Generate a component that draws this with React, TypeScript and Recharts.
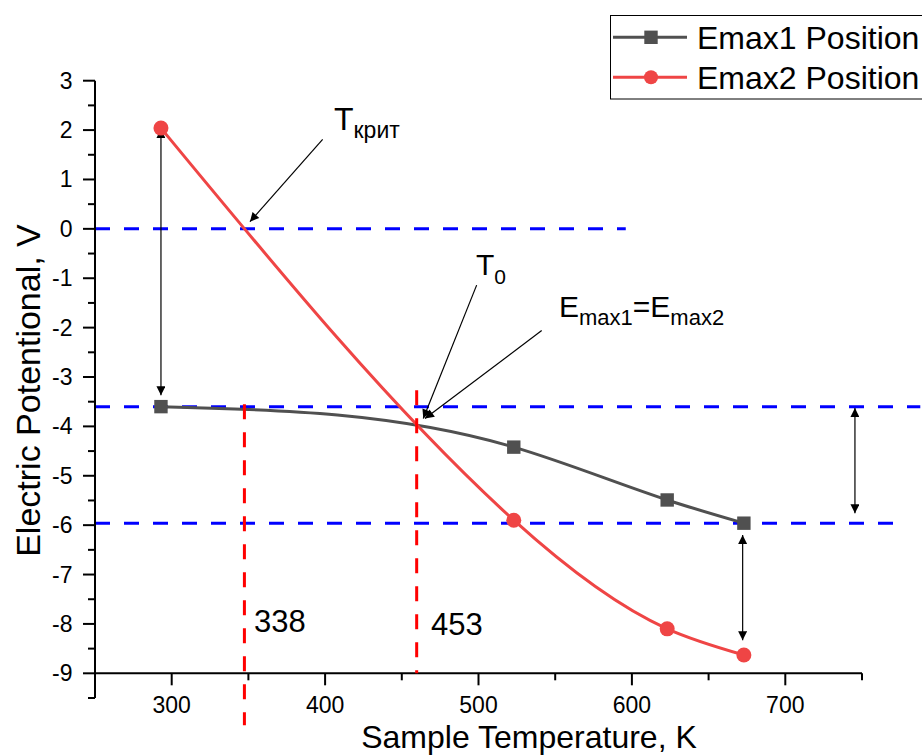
import React from 'react';
import { LineChart, Line, XAxis, YAxis, ReferenceLine, Legend } from 'recharts';

// ---------- data ----------
const temperatures = [293, 523, 623, 673];
const emax1Values = [-3.6, -4.42, -5.49, -5.96];
const emax2Values = [2.04, -5.9, -8.1, -8.63];

const xTicks = [250, 300, 350, 400, 450, 500, 550, 600, 650, 700, 750];
const xLabelTicks = [300, 400, 500, 600, 700];
const yTicks = [-9.5, -9, -8.5, -8, -7.5, -7, -6.5, -6, -5.5, -5, -4.5, -4, -3.5, -3, -2.5, -2, -1.5, -1, -0.5, 0, 0.5, 1, 1.5, 2, 2.5, 3];
const yLabelTicks = [-9, -8, -7, -6, -5, -4, -3, -2, -1, 0, 1, 2, 3];

// guide lines (data coordinates)
const horizontalGuides = [
  { y: 0, from: 250, to: 596 },
  { y: -3.6, from: 250, to: 788 },
  { y: -5.96, from: 250, to: 777 },
];
const verticalGuides = [
  { x: 347.4, from: -3.55, to: -10.05 },
  { x: 459.7, from: -3.27, to: -9 },
];
const doubleArrows = [
  { x: 293, from: 2.02, to: -3.37 },
  { x: 745.4, from: -3.63, to: -5.76 },
  { x: 672.2, from: -6.2, to: -8.33 },
];
const pointerArrows = [
  { x1: 398.4, y1: 1.81, x2: 351.0, y2: 0.145 },
  { x1: 498.8, y1: -1.14, x2: 464.0, y2: -3.84 },
  { x1: 541.2, y1: -2.06, x2: 465.1, y2: -3.84 },
];

const data = temperatures.map((t, i) => ({ T: t, emax1: emax1Values[i], emax2: emax2Values[i] }));

// ---------- layout / style ----------
const W = 922;
const H = 755;
const MARGIN_TOP = 80.7;
const MARGIN_RIGHT = 60;
const Y_AXIS_W = 95;
const X_AXIS_H = 57;
const Y_MIN = -9.5;
const Y_MAX = 3;
const X_AXIS_AT = -9;
const PLOT_H = H - MARGIN_TOP - X_AXIS_H;
const X_AXIS_OFFSET = (PLOT_H * (X_AXIS_AT - Y_MIN)) / (Y_MAX - Y_MIN);

const FONT = '"Liberation Sans", Arial, Helvetica, sans-serif';
const GRAY = '#505050';
const RED = '#ef4545';
const BLUE = '#0000ff';
const GUIDE_RED = '#ff0000';

// Natural cubic spline with x as the independent variable (like Origin's spline connector)
function naturalSplineX(context: any) {
  let xs: number[] = [];
  let ys: number[] = [];
  return {
    areaStart() {},
    areaEnd() {},
    lineStart() {
      xs = [];
      ys = [];
    },
    point(x: number, y: number) {
      xs.push(+x);
      ys.push(+y);
    },
    lineEnd() {
      const n = xs.length;
      if (n === 0) return;
      context.moveTo(xs[0], ys[0]);
      if (n === 1) return;
      if (n === 2) {
        context.lineTo(xs[1], ys[1]);
        return;
      }
      const h: number[] = [];
      const d: number[] = [];
      for (let i = 0; i < n - 1; i++) {
        h[i] = xs[i + 1] - xs[i];
        d[i] = (ys[i + 1] - ys[i]) / h[i];
      }
      const M = new Array(n).fill(0);
      const m = n - 2;
      const a: number[] = [], b: number[] = [], c: number[] = [], r: number[] = [];
      for (let k = 0; k < m; k++) {
        const i = k + 1;
        a[k] = h[i - 1];
        b[k] = 2 * (h[i - 1] + h[i]);
        c[k] = h[i];
        r[k] = 6 * (d[i] - d[i - 1]);
      }
      for (let k = 1; k < m; k++) {
        const w = a[k] / b[k - 1];
        b[k] -= w * c[k - 1];
        r[k] -= w * r[k - 1];
      }
      const sol: number[] = new Array(m).fill(0);
      sol[m - 1] = r[m - 1] / b[m - 1];
      for (let k = m - 2; k >= 0; k--) sol[k] = (r[k] - c[k] * sol[k + 1]) / b[k];
      for (let k = 0; k < m; k++) M[k + 1] = sol[k];
      for (let i = 0; i < n - 1; i++) {
        const m0 = d[i] - (h[i] * (2 * M[i] + M[i + 1])) / 6;
        const m1 = d[i] + (h[i] * (M[i] + 2 * M[i + 1])) / 6;
        context.bezierCurveTo(
          xs[i] + h[i] / 3,
          ys[i] + (m0 * h[i]) / 3,
          xs[i + 1] - h[i] / 3,
          ys[i + 1] - (m1 * h[i]) / 3,
          xs[i + 1],
          ys[i + 1]
        );
      }
    },
  };
}

const XTick = (props: any) => {
  const { x, y, payload } = props;
  const v = payload.value;
  const axisY = y - X_AXIS_OFFSET;
  const major = xLabelTicks.includes(v);
  return (
    <g>
      <line x1={x} x2={x} y1={axisY} y2={axisY + (major ? 12 : 7)} stroke="#000" strokeWidth={2} />
      {major && (
        <text x={x} y={axisY + 40} textAnchor="middle" fontSize={23} fontFamily={FONT} fill="#000">
          {v}
        </text>
      )}
    </g>
  );
};

const YTick = (props: any) => {
  const { x, y, payload } = props;
  const v = payload.value;
  const major = yLabelTicks.includes(v);
  return (
    <g>
      <line x1={x - (major ? 12 : 7)} x2={x} y1={y} y2={y} stroke="#000" strokeWidth={2} />
      {major && (
        <text x={x - 22.5} y={y + 8} textAnchor="end" fontSize={23} fontFamily={FONT} fill="#000">
          {v}
        </text>
      )}
    </g>
  );
};

const SquareDot = (props: any) => {
  const { cx, cy, index } = props;
  if (cx == null || cy == null) return <g key={`sq-${index}`} />;
  return <rect key={`sq-${index}`} x={cx - 6.7} y={cy - 6.7} width={13.4} height={13.4} fill={GRAY} />;
};

const arrowShape = (both: boolean) => (p: any) => (
  <line
    x1={p.x1}
    y1={p.y1}
    x2={p.x2}
    y2={p.y2}
    stroke="#000"
    strokeWidth={1.2}
    markerEnd="url(#arrowHead)"
    markerStart={both ? 'url(#arrowHead)' : undefined}
  />
);

const LegendContent = (props: any) => {
  const payload = props.payload || [];
  return (
    <svg width={330} height={86} style={{ display: 'block' }}>
      <rect x={0.5} y={0.5} width={340} height={83.5} fill="#fff" stroke="#000" strokeWidth={1} />
      {payload.map((p: any, i: number) => {
        const cy = 22.3 + i * 40;
        const color = p.color;
        return (
          <g key={p.value}>
            <line x1={3} x2={77} y1={cy} y2={cy} stroke={color} strokeWidth={3} />
            {i === 0 ? (
              <rect x={41 - 6.7} y={cy - 6.7} width={13.4} height={13.4} fill={color} />
            ) : (
              <circle cx={41} cy={cy} r={7} fill={color} />
            )}
            <text x={87} y={cy + 12} fontSize={32} fontFamily={FONT} fill="#000">
              {p.value}
            </text>
          </g>
        );
      })}
    </svg>
  );
};

export default function App() {
  return (
    <div style={{ position: 'absolute', left: 0, top: 0, width: W, height: H, overflow: 'hidden', background: '#fff' }}>
      <LineChart
        width={W}
        height={H}
        data={data}
        margin={{ top: MARGIN_TOP, right: MARGIN_RIGHT, bottom: 0, left: 0 }}
      >
        <defs>
          <marker
            id="arrowHead"
            viewBox="0 0 10 10"
            refX={10}
            refY={5}
            markerWidth={15}
            markerHeight={9}
            markerUnits="userSpaceOnUse"
            orient="auto-start-reverse"
          >
            <path d="M0,0 L10,5 L0,10 z" fill="#000" />
          </marker>
        </defs>
        <XAxis
          dataKey="T"
          type="number"
          domain={[250, 750]}
          ticks={xTicks}
          interval={0}
          height={X_AXIS_H}
          axisLine={false}
          tickLine={false}
          tickSize={0}
          tickMargin={0}
          tick={<XTick />}
        />
        <YAxis
          type="number"
          domain={[Y_MIN, Y_MAX]}
          ticks={yTicks}
          interval={0}
          width={Y_AXIS_W}
          axisLine={{ stroke: '#000', strokeWidth: 2 }}
          tickLine={false}
          tickSize={0}
          tickMargin={0}
          tick={<YTick />}
        />
        <ReferenceLine y={X_AXIS_AT} stroke="#000" strokeWidth={2} />

        {horizontalGuides.map((g, i) => (
          <ReferenceLine
            key={`hg-${i}`}
            segment={[{ x: g.from, y: g.y }, { x: g.to, y: g.y }]}
            stroke={BLUE}
            strokeWidth={3}
            strokeDasharray="15 14"
            ifOverflow="visible"
          />
        ))}

        <Line
          type={naturalSplineX as any}
          dataKey="emax1"
          name="Emax1 Position"
          stroke={GRAY}
          strokeWidth={3}
          dot={SquareDot}
          activeDot={false}
          isAnimationActive={false}
        />
        <Line
          type={naturalSplineX as any}
          dataKey="emax2"
          name="Emax2 Position"
          stroke={RED}
          strokeWidth={3}
          dot={{ r: 7.5, fill: RED, stroke: RED, strokeWidth: 0 }}
          activeDot={false}
          isAnimationActive={false}
        />

        {verticalGuides.map((g, i) => (
          <ReferenceLine
            key={`vg-${i}`}
            segment={[{ x: g.x, y: g.from }, { x: g.x, y: g.to }]}
            stroke={GUIDE_RED}
            strokeWidth={3}
            strokeDasharray="15 13"
            ifOverflow="visible"
          />
        ))}

        {doubleArrows.map((a, i) => (
          <ReferenceLine
            key={`da-${i}`}
            segment={[{ x: a.x, y: a.from }, { x: a.x, y: a.to }]}
            ifOverflow="visible"
            shape={arrowShape(true)}
          />
        ))}
        {pointerArrows.map((a, i) => (
          <ReferenceLine
            key={`pa-${i}`}
            segment={[{ x: a.x1, y: a.y1 }, { x: a.x2, y: a.y2 }]}
            ifOverflow="visible"
            shape={arrowShape(false)}
          />
        ))}

        <Legend
          layout="horizontal"
          verticalAlign="middle"
          align="center"
          content={<LegendContent />}
          wrapperStyle={{ position: 'absolute', left: 610, top: 15, width: 330, height: 86, margin: 0, padding: 0 }}
        />

        {/* annotations */}
        <text x={334} y={129.5} fontSize={32} fontFamily={FONT} fill="#000">
          T<tspan fontSize={23} dy={8}>крит</tspan>
        </text>
        <text x={476} y={275} fontSize={30} fontFamily={FONT} fill="#000">
          T<tspan fontSize={21} dy={9}>0</tspan>
        </text>
        <text x={559} y={316.7} fontSize={30} fontFamily={FONT} fill="#000">
          E<tspan fontSize={22} dy={8}>max1</tspan>
          <tspan dy={-8}>=E</tspan>
          <tspan fontSize={22} dy={8}>max2</tspan>
        </text>
        <text x={254} y={632} fontSize={31} fontFamily={FONT} fill="#000">338</text>
        <text x={431} y={635} fontSize={31} fontFamily={FONT} fill="#000">453</text>

        {/* axis titles */}
        <text x={529} y={748} textAnchor="middle" fontSize={32} fontFamily={FONT} fill="#000">
          Sample Temperature, K
        </text>
        <text
          transform="translate(40, 390.5) rotate(-90)"
          textAnchor="middle"
          fontSize={34}
          fontFamily={FONT}
          fill="#000"
        >
          Electric Potentional, V
        </text>
      </LineChart>
    </div>
  );
}
